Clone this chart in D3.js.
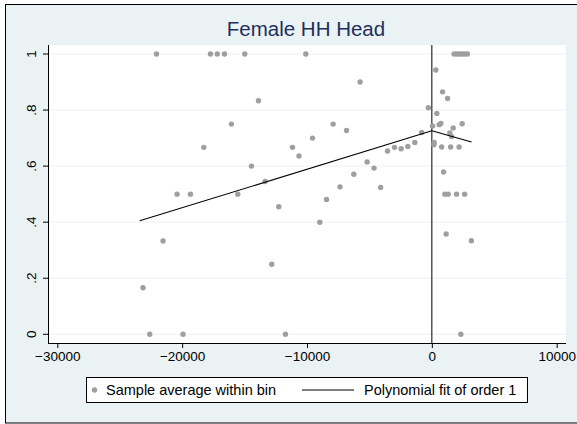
<!DOCTYPE html>
<html>
<head>
<meta charset="utf-8">
<script src="https://cdn.jsdelivr.net/npm/d3@7"></script>
<style>
  body { margin: 0; background: #fff; }
  text { font-family: "Liberation Sans", Arial, sans-serif; }
</style>
</head>
<body>
<svg id="chart" width="577" height="424"></svg>
<script>
// bin averages (x = running variable, y = share female HH head)
var binX = [-23133, -22596, -22059, -21530, -20409, -19928, -19335, -18269, -17732, -17188,
  -16611, -16050, -15545, -14984, -14447, -13886, -13357, -12821, -12260, -11723,
  -11162, -10641, -10096, -9559, -8974, -8438, -7909, -7356, -6835, -6250,
  -5745, -5184, -4631, -4103, -3550, -2989, -2460, -1923, -1362, -817, -280,
  56, 184, 160, 320, 400, 585, 721, 785, 857, 938, 1042, 1146, 1258, 1306,
  1442, 1506, 1579, 1707, 1779, 1995, 2204, 2420, 2628, 2845, 1979, 2179,
  2324, 2428, 2628, 3165];
var binY = [0.166, 0, 1, 0.333, 0.5, 0, 0.5, 0.667, 1, 1,
  1, 0.75, 0.5, 1, 0.6, 0.833, 0.545, 0.25, 0.455, 0,
  0.667, 0.636, 1, 0.7, 0.4, 0.481, 0.75, 0.526, 0.727, 0.571,
  0.9, 0.615, 0.593, 0.524, 0.654, 0.667, 0.662, 0.67, 0.684, 0.72, 0.808,
  0.743, 0.684, 0.676, 0.943, 0.788, 0.748, 0.752, 0.668, 0.865, 0.579, 0.5, 0.358, 0.841, 0.5,
  0.718, 0.668, 0.706, 0.736, 1, 1, 1, 1, 1, 1, 0.5, 0.668,
  0, 0.751, 0.5, 0.334];

// linear fits on each side of the cutoff
var fitLeft = [[-23400, 0.405], [0, 0.726]];
var fitRight = [[0, 0.726], [3180, 0.686]];

var xTicks = [-30000, -20000, -10000, 0, 10000];
var yTicks = [0, 0.2, 0.4, 0.6, 0.8, 1];
var yTickLabels = ["0", ".2", ".4", ".6", ".8", "1"];

var svg = d3.select("#chart");
var plot = { left: 48, right: 566, top: 45, bottom: 343 };

var x = d3.scaleLinear().domain([-30000, 10000]).range([57.3, 556.7]);
var y = d3.scaleLinear().domain([0, 1]).range([334.3, 54]);

// graph region
svg.append("rect").attr("x", 0).attr("y", 0).attr("width", 577).attr("height", 424).attr("fill", "#fff");
svg.append("rect")
    .attr("x", 5.5).attr("y", 4.5).attr("width", 600).attr("height", 418.5)
    .attr("fill", "#eaf2f3").attr("stroke", "#000").attr("stroke-width", 1);

// plot region
svg.append("rect")
    .attr("x", plot.left).attr("y", plot.top)
    .attr("width", plot.right - plot.left).attr("height", plot.bottom - plot.top)
    .attr("fill", "#fff");

// grid
svg.append("g").selectAll("line").data(yTicks).enter().append("line")
    .attr("x1", plot.left).attr("x2", plot.right)
    .attr("y1", function(d) { return y(d); }).attr("y2", function(d) { return y(d); })
    .attr("stroke", "#eaf2f3").attr("stroke-width", 1);

// title
svg.append("text")
    .attr("x", 306).attr("y", 36)
    .attr("text-anchor", "middle")
    .attr("font-size", 20.5)
    .attr("fill", "#1e2f5c")
    .text("Female HH Head");

// y axis
var yAxis = d3.axisLeft(y).tickValues(yTicks)
    .tickFormat(function(d, i) { return yTickLabels[i]; })
    .tickSize(5).tickPadding(3);
var gy = svg.append("g").attr("transform", "translate(" + plot.left + ",0)").call(yAxis);
gy.select(".domain").attr("d", "M0.5," + plot.top + "V" + plot.bottom);
gy.selectAll(".tick").attr("transform", null);
gy.selectAll(".tick line").attr("y1", function(d) { return y(d); }).attr("y2", function(d) { return y(d); });
gy.selectAll("text")
    .attr("font-size", 13.5).attr("fill", "#000")
    .attr("text-anchor", "middle")
    .attr("transform", "rotate(-90)")
    .attr("x", function(d) { return -y(d); })
    .attr("y", -17)
    .attr("dy", "0.35em");

// x axis
var xAxis = d3.axisBottom(x).tickValues(xTicks)
    .tickFormat(function(d) { return d < 0 ? "\u2212" + Math.abs(d) : String(d); })
    .tickSize(5).tickPadding(3);
var gx = svg.append("g").attr("transform", "translate(0," + plot.bottom + ")").call(xAxis);
gx.select(".domain").attr("d", "M" + plot.left + ",0.5H" + plot.right);
gx.selectAll("text").attr("font-size", 13.5).attr("fill", "#000");

// cutoff line
svg.append("line")
    .attr("x1", x(0)).attr("x2", x(0))
    .attr("y1", plot.top).attr("y2", plot.bottom)
    .attr("stroke", "#000").attr("stroke-width", 1);

// scatter
svg.append("g").selectAll("circle").data(binX).enter().append("circle")
    .attr("cx", function(d) { return x(d); })
    .attr("cy", function(d, i) { return y(binY[i]); })
    .attr("r", 2.7)
    .attr("fill", "#9f9f9f");

// fit lines
var line = d3.line().x(function(d) { return x(d[0]); }).y(function(d) { return y(d[1]); });
[fitLeft, fitRight].forEach(function(seg) {
  svg.append("path").attr("d", line(seg))
      .attr("fill", "none").attr("stroke", "#000").attr("stroke-width", 1.1);
});

// legend
var lg = svg.append("g");
lg.append("rect").attr("x", 86.5).attr("y", 377.5).attr("width", 441).attr("height", 25)
    .attr("fill", "#fff").attr("stroke", "#000").attr("stroke-width", 1);
lg.append("circle").attr("cx", 94.5).attr("cy", 390).attr("r", 2.7).attr("fill", "#9f9f9f");
lg.append("text").attr("x", 106).attr("y", 395).attr("font-size", 14.5).text("Sample average within bin");
lg.append("line").attr("x1", 302).attr("x2", 354).attr("y1", 390).attr("y2", 390)
    .attr("stroke", "#000").attr("stroke-width", 1);
lg.append("text").attr("x", 364).attr("y", 395).attr("font-size", 14.5).text("Polynomial fit of order 1");
</script>
</body>
</html>
